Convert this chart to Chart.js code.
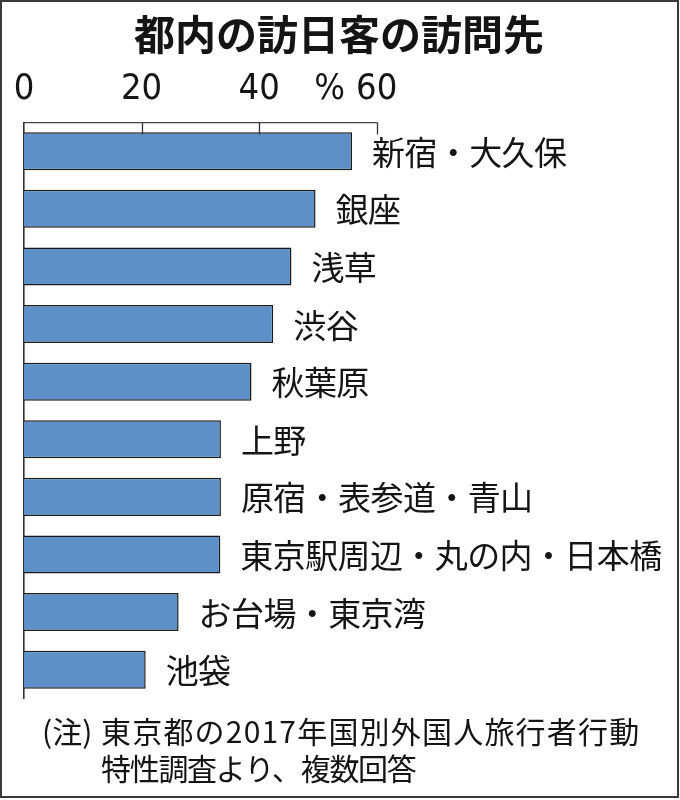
<!DOCTYPE html>
<html lang="ja">
<head>
<meta charset="utf-8">
<script src="https://cdn.jsdelivr.net/npm/chart.js@4.4.1/dist/chart.umd.min.js"></script>
<style>
  html, body { margin: 0; padding: 0; background: #fff; }
  #wrap { position: relative; width: 680px; height: 800px; }
</style>
</head>
<body>
<div id="wrap"><canvas id="c" width="680" height="800"></canvas></div>
<script>
// Data
const chartTitle = '都内の訪日客の訪問先';
const places = [
  '新宿・大久保', '銀座', '浅草', '渋谷', '秋葉原',
  '上野', '原宿・表参道・青山', '東京駅周辺・丸の内・日本橋', 'お台場・東京湾', '池袋'
];
const shares = [55.8, 49.6, 45.5, 42.4, 38.7, 33.5, 33.5, 33.4, 26.3, 20.7];
const tickValues = [0, 20, 40, 60];
const tickLabels = ['0', '20', '40', '60'];
const unitLabel = '%';
const noteMark = '(注)';
const noteLines = ['東京都の2017年国別外国人旅行者行動', '特性調査より、複数回答'];

// Styling
const CJK = '"Noto Sans CJK JP", "Noto Sans CJK SC", sans-serif';
const NUM = '"Liberation Sans Narrow", "DejaVu Sans Condensed", "Liberation Sans", sans-serif';
const INK = '#141414';

function spaced(ctx, px) {
  if ('letterSpacing' in ctx) ctx.letterSpacing = px + 'px';
}

const decorations = {
  id: 'decorations',
  afterDraw(chart) {
    const ctx = chart.ctx;
    const area = chart.chartArea;
    const xs = chart.scales.x;
    ctx.save();

    // outer frame
    ctx.strokeStyle = '#3a3a3a';
    ctx.lineWidth = 2;
    ctx.strokeRect(1, 1, 677, 796);

    // title
    ctx.fillStyle = INK;
    ctx.font = 'bold 41px ' + CJK;
    ctx.textAlign = 'center';
    ctx.textBaseline = 'middle';
    ctx.fillText(chartTitle, 339, 34);

    // short tick marks hanging below the top axis
    ctx.strokeStyle = '#333';
    ctx.lineWidth = 1.3;
    tickValues.forEach(v => {
      if (v === 0) return;
      const px = Math.round(xs.getPixelForValue(v)) + 0.5;
      ctx.beginPath();
      ctx.moveTo(px, area.top);
      ctx.lineTo(px, area.top + 12);
      ctx.stroke();
    });

    // unit sign left of the last tick label
    const tOpts = xs.options.ticks;
    const lineH = tOpts.font.size * 1.2;
    const labelY = xs.bottom - tOpts.padding - lineH / 2;
    ctx.font = tOpts.font.size + 'px ' + NUM;
    const lastLbl = tickLabels[tickLabels.length - 1];
    const lastX = xs.getPixelForValue(tickValues[tickValues.length - 1]);
    ctx.textAlign = 'right';
    ctx.textBaseline = 'middle';
    ctx.fillText(unitLabel, lastX - ctx.measureText(lastLbl).width / 2 - 11, labelY);

    // category names beside each bar
    const meta = chart.getDatasetMeta(0);
    ctx.font = '33px ' + CJK;
    spaced(ctx, -0.6);
    ctx.textAlign = 'left';
    ctx.textBaseline = 'middle';
    meta.data.forEach((bar, i) => {
      ctx.fillText(places[i], bar.x + 20, bar.y + 1);
    });

    // source note
    ctx.font = '30px ' + CJK;
    spaced(ctx, 0);
    ctx.fillText(noteMark, 42, 732);
    spaced(ctx, 1.2);
    ctx.fillText(noteLines[0], 101, 732);
    spaced(ctx, -1.3);
    ctx.fillText(noteLines[1], 101, 769);

    ctx.restore();
  }
};

new Chart(document.getElementById('c'), {
  type: 'bar',
  data: {
    labels: places,
    datasets: [{
      data: shares,
      backgroundColor: '#5c90c7',
      borderColor: '#1c1c1c',
      borderWidth: 1.5,
      borderSkipped: 'start',
      barPercentage: 0.66,
      categoryPercentage: 1.0
    }]
  },
  options: {
    indexAxis: 'y',
    responsive: false,
    animation: false,
    devicePixelRatio: 1,
    layout: { padding: { left: 24, right: 303.3, top: 56.4, bottom: 101.5 } },
    plugins: {
      legend: { display: false },
      title: { display: false },
      tooltip: { enabled: false }
    },
    scales: {
      x: {
        type: 'linear',
        position: 'top',
        min: 0,
        max: 60,
        afterBuildTicks: s => { s.ticks = tickValues.map(v => ({ value: v })); },
        ticks: {
          autoSkip: false,
          maxRotation: 0,
          padding: 11.4,
          color: INK,
          font: { family: NUM, size: 36 },
          callback: v => {
            const i = tickValues.indexOf(v);
            return i >= 0 ? tickLabels[i] : '';
          }
        },
        grid: { display: false, drawTicks: false, tickLength: 0 },
        border: { display: true, color: '#444', width: 1.3 }
      },
      y: {
        type: 'category',
        ticks: { display: false },
        grid: { display: false, drawTicks: false, tickLength: 0 },
        border: { display: true, color: '#333', width: 1.6 }
      }
    }
  },
  plugins: [decorations]
});
</script>
</body>
</html>
